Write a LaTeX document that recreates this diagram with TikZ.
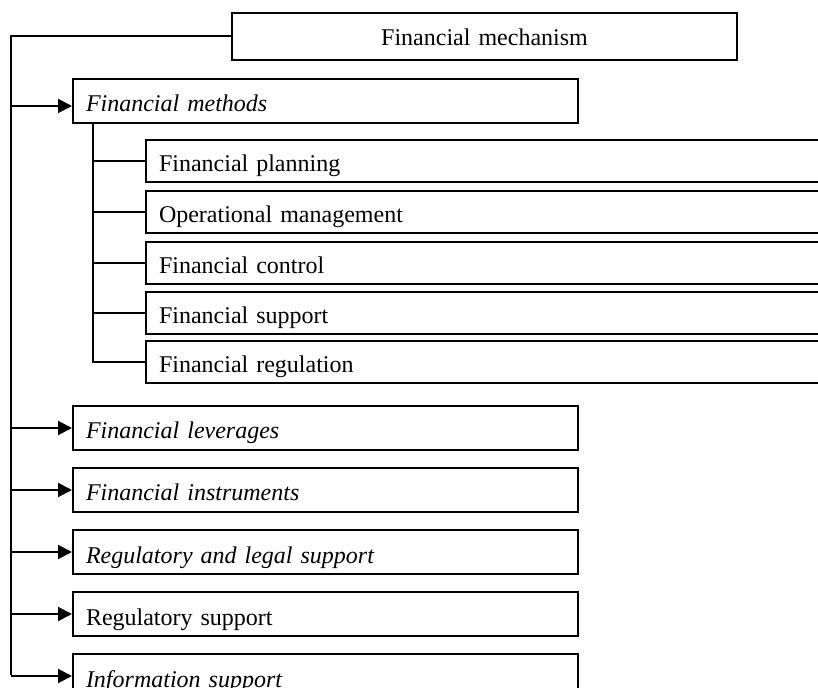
\documentclass[tikz,border=0pt]{standalone}
\usepackage{fontspec}
\setmainfont{Liberation Serif}
\usetikzlibrary{arrows.meta}
\tikzset{
blk/.style={draw, line width=1pt, anchor=north west, inner sep=0pt, inner xsep=6.5pt,
  text width=239.5pt, align=left, text height=16.5pt, text depth=5.5pt},
subblk/.style={blk, text width=337pt, text height=16pt, text depth=5pt},
arr/.style={-{Triangle[length=7pt,width=7pt]}}
}
\begin{document}
\begin{tikzpicture}[x=0.5pt,y=-0.5pt, line width=1pt, font=\fontsize{12}{14}\selectfont]
\clip (0,0) rectangle (818,688);

\node[blk, align=center, text height=16.5pt, text depth=7pt] (mech) at (231,12) {Financial mechanism};
\node[blk] (methods) at (72,78) {\itshape Financial methods};

\foreach \n/\y/\t in {plan/139/Financial planning, oper/190/Operational management,
  ctrl/241/Financial control, supp/291/Financial support, regl/340/Financial regulation}
\node[subblk] (\n) at (145,\y) {\t};

\foreach \n/\y/\t in {leverages/405/\itshape Financial leverages, instr/467/\itshape Financial instruments,
  legal/529/\itshape Regulatory and legal support, regsup/591/Regulatory support, info/653/\itshape Information support}
\node[blk] (\n) at (72,\y) {\t};

% main line with arrows
\coordinate (tbot) at (11,675);
\draw (mech.west) -| (tbot);
\coordinate (min) at ([yshift=-2.5pt]methods.west);
\draw[arr] (tbot |- min) -- (min);
\foreach \n in {leverages,instr,legal,regsup,info}
\draw[arr] (tbot |- \n.west) -- (\n.west);

% methods branch
\coordinate (stop) at ([xshift=10.5pt]methods.south west);
\draw (stop) |- (regl.west);
\foreach \n in {plan,oper,ctrl,supp}
\draw (stop |- \n.west) -- (\n.west);

\end{tikzpicture}
\end{document}
